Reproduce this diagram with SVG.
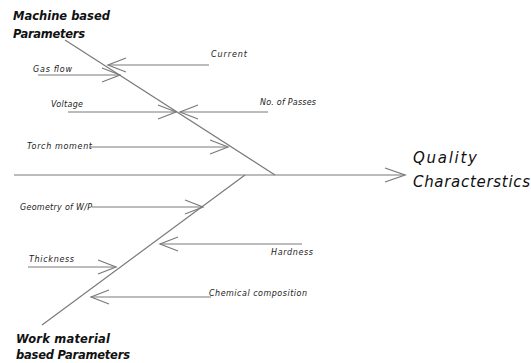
<svg xmlns="http://www.w3.org/2000/svg" width="531" height="363" viewBox="0 0 531 363">
<defs>
<marker id="ah" markerUnits="userSpaceOnUse" markerWidth="24" markerHeight="20" viewBox="-20 -10 24 20" refX="0" refY="0" orient="auto" overflow="visible">
<path d="M-18,-7 L0,0 L-18,7" fill="none" stroke="#7a7a7a" stroke-width="1.2"/>
</marker>
<marker id="ahm" markerUnits="userSpaceOnUse" markerWidth="24" markerHeight="20" viewBox="-22 -10 24 20" refX="0" refY="0" orient="auto" overflow="visible">
<path d="M-20,-7 L0,0 L-20,7" fill="none" stroke="#7a7a7a" stroke-width="1.3"/>
</marker>
</defs>
<style>
.ln{stroke:#7a7a7a;stroke-width:1.2;fill:none}
.br{stroke:#7a7a7a;stroke-width:1.2;fill:none;marker-end:url(#ah)}
.sm{font-family:"DejaVu Sans",sans-serif;font-style:italic;font-size:8px;fill:#222}
.tt{font-family:"DejaVu Sans",sans-serif;font-style:italic;font-weight:bold;font-size:11.5px;fill:#111}
.qt{font-family:"DejaVu Sans",sans-serif;font-style:italic;font-size:15px;fill:#111}
</style>
<rect width="531" height="363" fill="#fff"/>
<g id="connectors">
<line class="ln" x1="14" y1="175" x2="405" y2="175" marker-end="url(#ahm)"/>
<line class="ln" x1="65" y1="40" x2="275" y2="175"/>
<line class="ln" x1="245" y1="175" x2="42" y2="325"/>
<line class="br" x1="209" y1="65" x2="108" y2="65"/>
<line class="br" x1="38" y1="75" x2="120" y2="75"/>
<line class="br" x1="68" y1="112" x2="176" y2="112"/>
<line class="br" x1="268" y1="112" x2="180" y2="112"/>
<line class="br" x1="90" y1="147" x2="228" y2="147"/>
<line class="br" x1="92" y1="207" x2="203" y2="207"/>
<line class="br" x1="302" y1="244" x2="160" y2="244"/>
<line class="br" x1="28" y1="267" x2="116" y2="267"/>
<line class="br" x1="211" y1="297" x2="91" y2="297"/>
</g>
<g id="machine"><text class="tt" x="13" y="20" textLength="97">Machine based</text><text class="tt" x="13" y="38" textLength="72">Parameters</text></g>
<g id="work"><text class="tt" x="16" y="343" textLength="94">Work material</text><text class="tt" x="16" y="359" textLength="114">based Parameters</text></g>
<g id="quality"><text class="qt" x="413" y="163" textLength="64">Quality</text><text class="qt" x="413" y="187" textLength="117">Characterstics</text></g>
<g id="current"><text class="sm" x="211" y="57" textLength="36">Current</text></g>
<g id="gasflow"><text class="sm" x="33" y="72" textLength="39">Gas flow</text></g>
<g id="voltage"><text class="sm" x="51" y="107" textLength="32">Voltage</text></g>
<g id="passes"><text class="sm" x="260" y="105" textLength="56">No. of Passes</text></g>
<g id="torch"><text class="sm" x="27" y="149" textLength="65">Torch moment</text></g>
<g id="geometry"><text class="sm" x="20" y="210" textLength="72">Geometry of W/P</text></g>
<g id="hardness"><text class="sm" x="271" y="255" textLength="42">Hardness</text></g>
<g id="thickness"><text class="sm" x="29" y="262" textLength="45">Thickness</text></g>
<g id="chemical"><text class="sm" x="209" y="296" textLength="98">Chemical composition</text></g>
</svg>
